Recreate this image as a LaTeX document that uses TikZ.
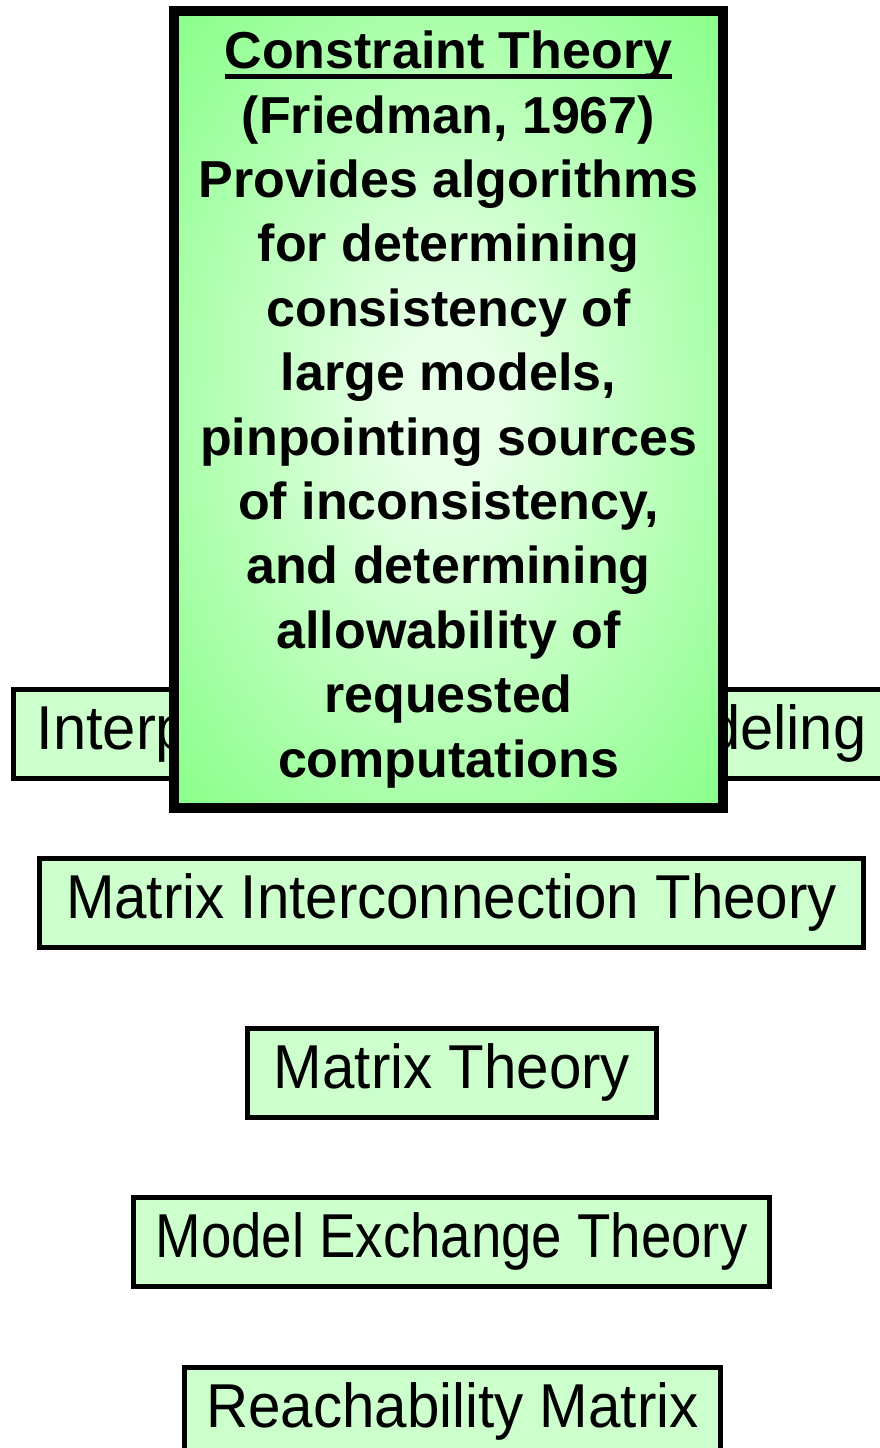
\documentclass[tikz,border=0pt]{standalone}
\usepackage{fontspec}
\setmainfont{Liberation Sans}
\newfontfamily\regfont[FakeStretch=0.94]{Liberation Sans}
\definecolor{lightbox}{HTML}{CCFFCC}
\definecolor{glowc}{HTML}{E8FFE8}
\definecolor{glowe}{HTML}{66FF66}
\pgfdeclareradialshading{ctglow}{\pgfpoint{0bp}{0bp}}{color(0bp)=(glowc); color(5bp)=(glowc); color(46bp)=(glowe); color(50bp)=(glowe)}
\newcommand{\ctul}[1]{\setbox0\hbox{#1}\rlap{\rule[-10pt]{\wd0}{4.5pt}}\box0}
\begin{document}
\begin{tikzpicture}[x=1pt,y=-1pt,
  theorybox/.style={draw=black, line width=5pt, fill=lightbox, inner sep=0pt,
    minimum height=89pt, font=\regfont\fontsize{62}{70}\selectfont,
    text height=44.4pt, text depth=13pt},
  ctbox/.style={draw=black, line width=10pt, shading=ctglow, inner sep=0pt,
    align=center, font=\fontsize{52}{64.4}\selectfont\bfseries}]
\useasboundingbox (0,0) rectangle (880,1448);
\begin{scope}
\clip (0,0) rectangle (880,1448);
\node[theorybox, minimum width=876pt] (isms) at (451.5,733.5) {\scalebox{1.025}[1]{Interpretive Structural Modeling}};
\node[ctbox, minimum width=549pt, minimum height=797pt] (ct) at (448.5,409.5)
  {\ctul{Constraint Theory}\\(Friedman, 1967)\\Provides algorithms\\for determining\\consistency of\\large models,\\pinpointing sources\\of inconsistency,\\and determining\\allowability of\\requested\\computations};
\node[theorybox, minimum width=824pt] (mit) at (451.5,902.5) {Matrix Interconnection Theory};
\node[theorybox, minimum width=409pt] (mt) at (452,1072.5) {Matrix Theory};
\node[theorybox, minimum width=636pt] (met) at (451.5,1242) {\scalebox{0.937}[1]{Model Exchange Theory}};
\node[theorybox, minimum width=536pt] (rm) at (452.5,1412) {Reachability Matrix};
\end{scope}
\end{tikzpicture}
\end{document}
